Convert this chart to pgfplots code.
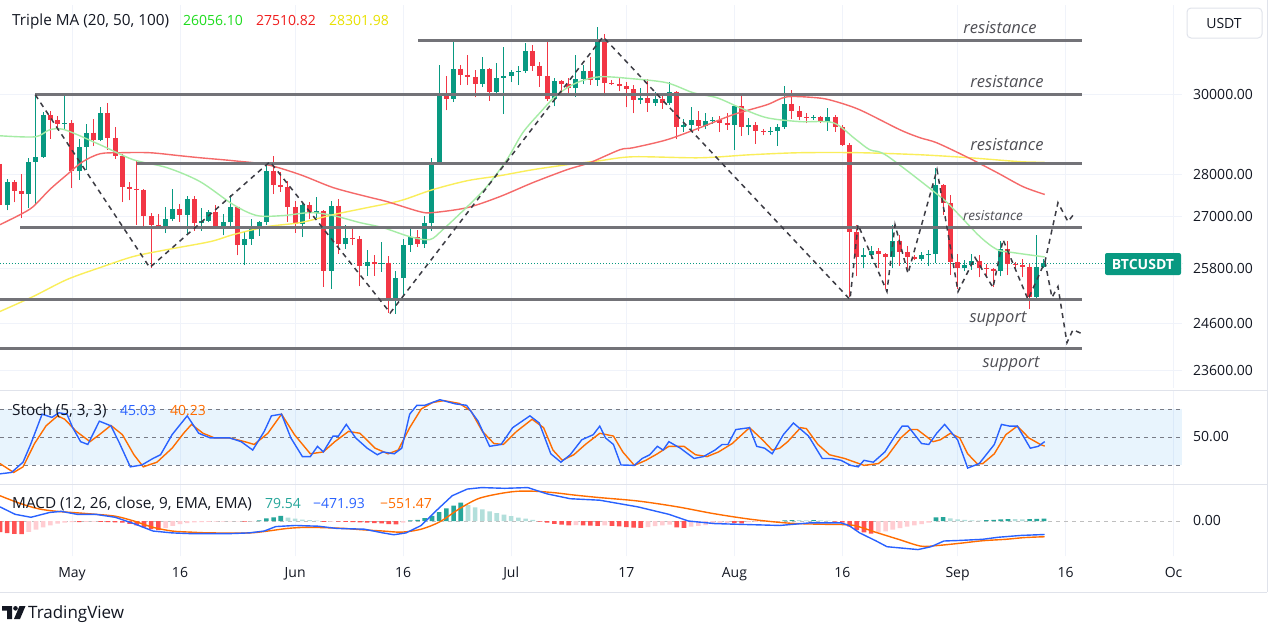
\documentclass[border=0pt]{standalone}
\usepackage{pgfplots}
\pgfplotsset{compat=1.18}
\usepackage{pgfplotstable}
\usepackage{fontspec}
\setmainfont{Open Sans}
\definecolor{upc}{RGB}{8,153,129}
\definecolor{dnc}{RGB}{242,54,69}
\definecolor{maA}{RGB}{165,236,165}
\definecolor{maB}{RGB}{245,105,105}
\definecolor{maC}{RGB}{250,238,90}
\definecolor{hl}{RGB}{115,115,120}
\definecolor{dsh}{RGB}{60,60,68}
\definecolor{gridc}{RGB}{240,243,250}
\definecolor{txt}{RGB}{19,23,34}
\definecolor{bord}{RGB}{224,227,235}
\definecolor{stb}{RGB}{41,98,255}
\definecolor{sto}{RGB}{255,109,0}
\definecolor{bandc}{RGB}{33,150,243}
\definecolor{refl}{RGB}{120,123,134}
\definecolor{hA}{RGB}{38,166,154}
\definecolor{hB}{RGB}{178,223,219}
\definecolor{hC}{RGB}{255,205,210}
\definecolor{hD}{RGB}{255,82,82}
\definecolor{annot}{RGB}{80,80,86}
\definecolor{legG}{RGB}{30,220,30}
\definecolor{legR}{RGB}{240,30,30}
\definecolor{legY}{RGB}{232,225,0}

% daily candles, d = days since 1 May
\pgfplotstableread{
d o h l c
-10 28250 28370 27130 27260
-9 27260 27880 27130 27820
-8 27820 27870 27320 27590
-7 27590 28000 26950 27510
-6 27510 28390 27180 28300
-5 28300 30000 27250 28420
-4 28420 29550 28400 29470
-3 29470 29570 28880 29340
-2 29340 29450 29090 29250
-1 29250 29960 29100 29280
0 29280 29340 27660 28070
1 28070 28880 27870 28680
2 28680 29260 28110 29030
3 29030 29380 28690 28850
4 28850 29680 28810 29530
5 29530 29800 28600 28900
6 28900 29180 28380 28450
7 28450 28490 27330 27690
8 27690 27820 27370 27650
9 27650 28330 26800 27620
10 27620 27650 26760 26990
11 26990 27060 25810 26800
12 26800 27040 26700 26770
13 26770 27200 26600 26920
14 26920 27650 26880 27160
15 27160 27280 26870 27030
16 27030 27480 26570 27400
17 27400 27470 26660 26830
18 26830 27180 26660 26890
19 26890 27150 26850 27100
20 27100 27270 26700 26750
21 26750 27050 26550 26850
22 26850 27500 26700 27220
23 27220 27220 26090 26330
24 26330 26650 25870 26470
25 26470 26930 26330 26720
26 26720 26890 26540 26870
27 26870 28200 26790 28080
28 28080 28450 27520 27740
29 27740 28050 27570 27700
30 27700 27840 26860 27210
31 27210 27350 26610 26820
32 26820 27300 26510 27250
33 27250 27340 26920 27070
34 27070 27450 26960 27120
35 27120 27130 25390 25750
36 25750 27360 25350 27240
37 27240 27390 26120 26340
38 26340 26800 26240 26500
39 26500 26770 26320 26470
40 26470 26530 25400 25850
41 25850 26210 25630 25940
42 25940 26100 25630 25900
43 25900 26400 25720 25930
44 25930 26080 24820 25120
45 25120 25750 24800 25580
46 25580 26460 25170 26330
47 26330 26770 26180 26510
48 26510 26680 26290 26340
49 26340 26990 26260 26840
50 26840 28390 26650 28310
51 28310 30800 28260 30000
52 30000 30500 29600 29890
53 29890 31430 29810 30690
54 30690 30800 30250 30530
55 30530 31050 30250 30470
56 30470 30650 29930 30270
57 30270 31000 30200 30690
58 30690 30700 29850 30080
59 30080 30830 30040 30450
60 30450 31280 29500 30490
61 30490 30650 30330 30590
62 30590 30770 30250 30630
63 30630 31380 30580 31160
64 31160 31320 30630 30770
65 30770 30880 30210 30500
66 30500 31500 29850 29900
67 29900 30450 29700 30350
68 30350 30380 30050 30290
69 30290 30440 30040 30170
70 30170 31050 29950 30410
71 30410 30800 30280 30620
72 30620 30990 30250 30390
73 30390 31820 30240 31470
74 31470 31640 29960 30320
75 30320 30400 30250 30280
76 30280 30440 30090 30230
77 30230 30340 29670 30140
78 30140 30250 29520 29860
79 29860 30190 29760 29910
80 29910 30420 29560 29800
81 29800 30060 29720 29900
82 29900 29990 29640 29790
83 29790 30340 29740 30080
84 30080 30100 28860 29180
85 29180 29380 29050 29230
86 29230 29680 29100 29350
87 29350 29570 29070 29210
88 29210 29530 29120 29320
89 29320 29420 29260 29360
90 29360 29450 29040 29280
91 29280 29520 29100 29230
92 29230 29740 28590 29700
93 29700 30050 28950 29180
94 29180 29410 28960 29220
95 29220 29310 28750 29080
96 29080 29110 28960 29040
97 29040 29180 28970 29080
98 29080 29250 28700 29180
99 29180 30230 29120 29770
100 29770 30130 29370 29570
101 29570 29700 29340 29430
102 29430 29530 29270 29390
103 29390 29480 29360 29430
104 29430 29460 29270 29300
105 29300 29650 29080 29430
106 29430 29470 29050 29170
107 29170 29230 28700 28710
108 28710 28770 25170 26620
109 26620 26800 25620 26050
110 26050 26270 25800 26100
111 26100 26300 26000 26190
112 26190 26270 25800 26120
113 26120 26140 25350 26050
114 26050 26800 25800 26430
115 26430 26560 25860 26160
116 26160 26310 25780 26060
117 26060 26100 25980 26010
118 26010 26170 25960 26090
119 26090 26220 25860 26120
120 26120 28140 25930 27730
121 27730 27760 27030 27300
122 27300 27500 25660 25940
123 25940 26130 25330 25800
124 25800 25980 25730 25870
125 25870 26130 25770 25970
126 25970 26100 25600 25810
127 25810 25900 25600 25780
128 25780 25800 25380 25750
129 25750 26430 25620 26240
130 26240 26420 25650 25900
131 25900 25940 25800 25870
132 25870 26020 25600 25830
133 25830 25890 24900 25160
134 25160 26560 25130 25840
135 25840 26000 25800 25920
}\ohlc

\pgfplotstableread{
d p
-10 28950
-5.1 28925
-3.1 29102
-1 29102
3.9 28725
8.5 28354
13.2 28158
17.8 27818
22.4 27268
25.7 27010
29.3 27010
33.1 27080
36.3 27010
40 26845
43.2 26728
46.9 26521
49.7 26452
51.5 26682
54.9 27220
57.6 27697
60.4 28354
62.6 29026
65 29538
67.4 30000
70.1 30316
73.3 30473
77.9 30420
82.6 30316
86.3 30052
89.6 29922
92.8 29664
96.5 29408
101.1 29307
105.7 29281
108.75 28875
110.8 28601
113.2 28450
120.6 27457
122.9 27080
126.1 26521
128.5 26223
130.7 26155
135.1 26056
}\maone

\pgfplotstableread{
d p
-10 26798
-7.2 27032
-5.4 27220
-3.1 27625
-0.7 27987
1.5 28305
3.9 28502
6.7 28527
10.8 28527
15 28452
17.8 28403
22.4 28329
27.1 28231
31.7 27987
36.3 27673
41 27458
43.75 27340
48.3 27103
50.1 27080
54.9 27197
59.4 27458
64 27793
68.75 28109
71.9 28280
76.1 28601
77.9 28650
82.6 28850
87.2 29153
91.8 29484
96.5 29741
99.3 29948
103.5 29922
105.7 29844
109.4 29612
115 29102
117.8 28900
120.1 28775
124.3 28420
128.5 28036
132.1 27697
135.1 27510
}\matwo

\pgfplotstableread{
d p
-10 24850
-5.4 25175
-0.7 25550
3.9 25817
8.5 26065
13.2 26223
19.2 26406
22.4 26567
27.1 26752
31.7 26845
36.3 27032
41 27197
45.6 27362
50.1 27625
54.9 27842
59.4 27963
64 28109
68.75 28231
73.3 28329
77.9 28427
87.2 28403
94.2 28477
101.1 28527
109.4 28527
117.8 28477
124.7 28403
131.7 28305
135.1 28290
}\mathree

\pgfplotstableread{
d v
-10 10.5
-8.4 12
-6.8 23
-5.75 42
-4.15 74.5
-2.8 71
-1.8 76
-0.7 74.5
0.1 60
1.2 45
2.2 42
3.8 67
5.4 62
6.5 45
8.1 18
9.7 20
11.25 27
12.3 31
13.9 52.5
16 72.7
17.6 54
19.2 49
21.9 49
23.5 45
25.1 36
26.7 56
27.7 72.7
29.1 74.5
30.4 49
32 29
33.1 29
34.1 40
34.9 34
36.25 51
37 51
38.1 63.5
39.4 49
41 38
42.4 31
43.2 34
44.75 32
45.8 38
46.9 74.5
47.9 84
49 84
51.1 90
53.25 85.5
54.8 84
56.4 67
58 40
59.6 42
61.2 60
63.6 72.7
64.9 65
66.5 32
67.9 23
69.2 31
70.8 47
72.4 52.5
73.3 61.7
74.1 49
75.2 42
76.25 20
78.1 19.6
79.2 27
80.25 31
81.3 40
82.1 36
82.9 45
84.5 38
86.4 27
87.7 29
89.3 36
90.3 42
91.1 42
92.2 58
94.1 60
95.1 40
96.2 38
97.25 32
98.8 52.5
100.2 65
102.3 51
104.2 27
105.5 27
106.8 25
108.15 19.6
109.2 18
110 25
111.3 23
112.9 34
114.3 51
115.3 61.7
116.1 61.7
118 43
119 42
120.1 54
121.2 63.5
123 47
124.4 16.7
126 21.5
128.1 42
129.1 63.5
130.2 61.7
131.3 61.7
133.1 38
134.2 40
135.1 45.03
}\stk

\pgfplotstableread{
d v
-10 21.5
-8.1 12
-6.8 18
-5.2 43
-3.6 62
-2 72.7
-1 69
0.6 56
2.5 45
3.8 52.5
5.4 62.4
7 52.5
8.6 31
9.9 18
11.8 23
13.9 38
15.5 54
16.6 63.5
18.2 54
19.8 49
21.9 49
24 45
25.3 42
27.2 54
29.1 74.5
30.9 52.5
33.1 32
34.9 34
36.5 45
38.4 56
40 54
42.1 38
43.9 32
45.3 36
46.9 60
48.5 80
50.1 87
51.65 89
53.8 86
55.4 78
57 56
58.6 43
59.9 42
61.75 56
63.9 69
65.5 60
66.8 36
68.1 25
69.7 31
71.3 42
73.3 54
75.2 51
76.5 34
78.1 19.6
79.7 25
81.3 32
82.9 40
85 40
86.6 31
88.2 29
89.8 34
91.7 43
94.1 60
95.9 47
97.25 36
98.3 38
99.4 45
101.2 60
102 59
103.6 42
105.2 31
107.3 27
110 19.6
112 21.5
113.2 29
115.1 49
116.4 58
117.4 58
119.6 45
120.6 47
122 54
123.3 49
124.4 32
125.7 21.5
126.5 21.5
128.1 32
129.7 52.5
131.3 61.7
132.9 49
134.5 42
135.1 40.23
}\std

\pgfplotstableread{
d v
-10 494
-7.9 234
-5.7 130
-3.1 299
-1.5 338
0.7 234
3.3 234
6 130
8.6 -91
11.25 -351
13.9 -416
16.5 -442
21.9 -442
24.6 -416
26.7 -351
28.3 -195
31 -156
34.2 -182
36.8 -260
40.6 -286
43.2 -416
44.7 -481
46.4 -416
48.5 -156
50.6 364
52.8 884
54.9 1118
56.9 1170
60.1 1144
63.3 1170
66 949
69.2 780
73.3 728
78.6 494
82.9 234
85.6 0
89.3 -91
94.6 -130
98.3 -156
102.5 -65
106.8 -65
107.9 -156
109.4 -416
111.7 -700
113.2 -900
117.5 -1000
119.3 -900
121.1 -700
123.3 -680
126.5 -640
128.6 -570
131.8 -505
135.1 -472
}\macdline

\pgfplotstableread{
d v
-10 884
-7.3 624
-4.7 429
-2.1 338
0.7 286
3.3 234
6 169
8.6 0
11.25 -221
13.9 -351
16.5 -390
19.2 -416
24.6 -416
27.2 -351
29.9 -260
32.5 -221
35.1 -234
37.8 -260
40.6 -312
43.2 -351
45.8 -390
48.5 -286
51.1 -26
53.8 429
56.4 780
59.2 949
61.8 1040
64.4 1040
67.1 988
69.7 910
73.3 819
78.6 700
84 500
89.3 250
94.6 50
99.9 -80
105.3 -120
108.5 -150
111.7 -400
114.9 -650
117.9 -880
120.1 -860
123.3 -780
126.5 -690
129.7 -640
132.3 -580
135.1 -551
}\macdsig

\pgfplotstableread{
d v
26 20
27 90
28 130
29 180
47 20
48 40
49 100
50 180
51 310
52 440
53 540
54 640
99 20
100 35
103 30
120 130
121 140
127 30
128 40
129 55
130 70
133 70
134 75
135 79.54
}\histA

\pgfplotstableread{
d v
30 120
31 80
32 50
33 30
34 10
55 560
56 480
57 410
58 340
59 280
60 220
61 170
62 120
63 80
64 40
101 30
102 25
104 25
105 15
122 90
123 60
124 40
125 25
126 15
131 65
132 60
}\histB

\pgfplotstableread{
d v
-6 -380
-5 -300
-4 -220
-3 -150
-2 -90
-1 -55
0 -35
2 -30
3 -20
13 -250
14 -170
15 -110
16 -70
17 -50
18 -40
19 -30
20 -25
21 -20
22 -15
23 -10
25 -15
36 -20
46 -60
70 -140
74 -150
80 -210
81 -180
82 -150
83 -130
86 -200
87 -170
88 -140
89 -110
90 -90
91 -70
94 -40
95 -30
96 -20
97 -15
98 -10
112 -410
113 -360
114 -300
115 -250
116 -200
117 -150
118 -110
119 -60
}\histC

\pgfplotstableread{
d v
-10 -390
-9 -420
-8 -450
-7 -455
1 -40
4 -28
5 -35
6 -45
7 -60
8 -100
9 -150
10 -220
11 -280
12 -320
24 -25
35 -30
37 -25
38 -30
39 -35
40 -50
41 -60
42 -70
43 -85
44 -110
45 -120
65 -20
66 -60
67 -100
68 -130
69 -150
71 -150
72 -160
73 -170
75 -170
76 -190
77 -210
78 -230
79 -240
84 -220
85 -240
92 -75
93 -80
106 -20
107 -60
108 -200
109 -320
110 -400
111 -440
}\histD

\newcommand{\fs}{\fontsize{14}{16}\selectfont}
\newcommand{\fl}{\fontsize{15.3}{18}\selectfont}
\newcommand{\tvname}[3]{\node[anchor=base west, inner sep=0pt, text=txt, font=\fl] at (#1pt,-#2pt) {#3};}
\newcommand{\tvtext}[4]{\node[anchor=base west, inner sep=0pt, text=#3, font=\fs] at (#1pt,-#2pt) {#4};}

\pgfplotsset{
  tvbase/.style={
    anchor=north west, scale only axis, width=1182pt,
    xmin=-10, xmax=154.17,
    axis line style={draw=none},
    tick style={draw=none}, major tick length=0pt,
    xtick={0,15,31,46,61,77,92,107,123,138,153},
    xticklabels={},
    xmajorgrids, major grid style={draw=gridc, line width=0.8pt},
    yticklabel pos=right,
    yticklabel style={font=\fs, text=txt, anchor=west, inner sep=0pt, xshift=11pt},
  }
}

\begin{document}
\begin{tikzpicture}
\fill[white] (0pt,0pt) rectangle (1273pt,-624pt);
\useasboundingbox (0pt,0pt) rectangle (1273pt,-624pt);

% ---------------- main price panel ----------------
\begin{axis}[tvbase, at={(0pt,-5pt)}, height=383pt,
  ymode=log, ymin=23254, ymax=32441,
  ytick={23600,24600,25800,27000,28000,30000},
  yticklabels={23600.00,24600.00,25800.00,27000.00,28000.00,30000.00},
  ymajorgrids,
]
\addplot[upc, line width=0.8pt, dash pattern=on 1pt off 2pt, forget plot] coordinates {(-10,25920) (154.17,25920)};
\pgfplotsforeachungrouped \candidx in {0,...,145} {%
  \pgfplotstablegetelem{\candidx}{d}\of\ohlc\let\cd\pgfplotsretval
  \pgfplotstablegetelem{\candidx}{o}\of\ohlc\let\co\pgfplotsretval
  \pgfplotstablegetelem{\candidx}{h}\of\ohlc\let\ch\pgfplotsretval
  \pgfplotstablegetelem{\candidx}{l}\of\ohlc\let\cl\pgfplotsretval
  \pgfplotstablegetelem{\candidx}{c}\of\ohlc\let\cc\pgfplotsretval
  \ifnum\cc<\co\relax \def\ccol{dnc}\else\def\ccol{upc}\fi
  \edef\doplot{%
    \noexpand\addplot[forget plot, draw=\ccol, line width=1pt] coordinates {(\cd,\cl) (\cd,\ch)};%
    \noexpand\addplot[forget plot, draw=\ccol, line width=5pt] coordinates {(\cd,\co) (\cd,\cc)};%
  }\doplot
}
\addplot[maC, line width=1.4pt, smooth, forget plot] table[x=d,y=p] {\mathree};
\addplot[maB, line width=1.4pt, smooth, forget plot] table[x=d,y=p] {\matwo};
\addplot[maA, line width=1.4pt, smooth, forget plot] table[x=d,y=p] {\maone};
% horizontal support / resistance lines
\addplot[hl, line width=2.7pt, forget plot] coordinates {(48.1,31442) (140.3,31442)};
\addplot[hl, line width=2.7pt, forget plot] coordinates {(-5.1,30000) (140.3,30000)};
\addplot[hl, line width=2.7pt, forget plot] coordinates {(9.0,28255) (140.3,28255)};
\addplot[hl, line width=2.7pt, forget plot] coordinates {(-7.2,26740) (140.3,26740)};
\addplot[hl, line width=2.7pt, forget plot] coordinates {(-10,25110) (140.3,25110)};
\addplot[hl, line width=2.7pt, forget plot] coordinates {(-10,24060) (140.3,24060)};
% dashed zig-zag paths
\addplot[dsh, line width=1.5pt, dash pattern=on 5pt off 4.5pt, forget plot] coordinates {
(-5.1,30000) (10.8,25817) (27.5,28305) (44.2,24820) (73.75,31551) (108.06,25110)
(109.17,26798) (113.19,25285) (114.31,26798) (116.11,25683) (120.14,28109) (123.06,25285)
(125.42,26042) (127.92,25373) (129.31,26452) (132.78,25110) (135.14,25952)
(136.94,27315) (138.33,26868) (139.31,27079)};
\addplot[dsh, line width=1.5pt, dash pattern=on 5pt off 4.5pt, forget plot] coordinates {
(135.14,25952) (136.11,25154) (136.94,25395) (138.19,24186) (139.03,24459) (140.28,24374)};
\end{axis}

% ---------------- stochastic panel ----------------
\begin{axis}[tvbase, at={(0pt,-390pt)}, height=94pt,
  ymin=-0.4, ymax=100.4, ytick={50}, yticklabels={50.00},
]
\fill[bandc, fill opacity=0.1] (axis cs:-10,20) rectangle (axis cs:154.17,80);
\addplot[refl, line width=0.9pt, dash pattern=on 4pt off 4pt, forget plot] coordinates {(-10,80) (154.17,80)};
\addplot[refl, line width=0.9pt, dash pattern=on 4pt off 4pt, forget plot] coordinates {(-10,50) (154.17,50)};
\addplot[refl, line width=0.9pt, dash pattern=on 4pt off 4pt, forget plot] coordinates {(-10,20) (154.17,20)};
\addplot[sto, line width=1.4pt, forget plot] table[x=d,y=v] {\std};
\addplot[stb, line width=1.4pt, forget plot] table[x=d,y=v] {\stk};
\end{axis}

% ---------------- MACD panel ----------------
\begin{axis}[tvbase, at={(0pt,-484pt)}, height=72pt,
  ymin=-1225, ymax=1295, ytick={0}, yticklabels={0.00},
  xticklabels={May,16,Jun,16,Jul,17,Aug,16,Sep,16,Oc},
  xticklabel style={font=\fs, text=txt, inner sep=0pt, yshift=-11pt},
]
\addplot[black!25, line width=0.9pt, dash pattern=on 4pt off 4pt, forget plot] coordinates {(-10,0) (154.17,0)};
\addplot[ybar, bar width=4.6pt, bar shift=0pt, fill=hA, draw=none, forget plot] table[x=d,y=v] {\histA};
\addplot[ybar, bar width=4.6pt, bar shift=0pt, fill=hB, draw=none, forget plot] table[x=d,y=v] {\histB};
\addplot[ybar, bar width=4.6pt, bar shift=0pt, fill=hC, draw=none, forget plot] table[x=d,y=v] {\histC};
\addplot[ybar, bar width=4.6pt, bar shift=0pt, fill=hD, draw=none, forget plot] table[x=d,y=v] {\histD};
\addplot[sto, line width=1.4pt, smooth, forget plot] table[x=d,y=v] {\macdsig};
\addplot[stb, line width=1.4pt, forget plot] table[x=d,y=v] {\macdline};
\end{axis}

% ---------------- frame ----------------
\draw[bord, line width=1pt] (0pt,-390pt) -- (1267pt,-390pt);
\draw[bord, line width=1pt] (0pt,-484pt) -- (1267pt,-484pt);
\draw[bord, line width=1pt] (1267pt,0pt) -- (1267pt,-592pt);
\draw[bord, line width=1pt] (0pt,-592pt) -- (1267pt,-592pt);

% ---------------- texts ----------------
\tvname{12}{25.5}{Triple MA (20, 50, 100)}
\tvtext{183}{25.5}{legG}{26056.10}
\tvtext{256}{25.5}{legR}{27510.82}
\tvtext{329}{25.5}{legY}{28301.98}

\tvname{12}{415.5}{Stoch (5, 3, 3)}
\tvtext{120}{415.5}{stb}{45.03}
\tvtext{170}{415.5}{sto}{40.23}

\tvname{12}{508.5}{MACD (12, 26, close, 9, EMA, EMA)}
\tvtext{265}{508.5}{hA}{79.54}
\tvtext{313}{508.5}{stb}{−471.93}
\tvtext{380}{508.5}{sto}{−551.47}

\begin{scope}[every node/.style={anchor=base, inner sep=0pt, text=annot}]
\node[font=\fontsize{16.5}{19}\selectfont\itshape] at (1000pt,-33.5pt) {resistance};
\node[font=\fontsize{16.5}{19}\selectfont\itshape] at (1007pt,-87.5pt) {resistance};
\node[font=\fontsize{16.5}{19}\selectfont\itshape] at (1007pt,-150.5pt) {resistance};
\node[font=\fontsize{13.5}{16}\selectfont\itshape] at (993pt,-220.5pt) {resistance};
\node[font=\fontsize{16.5}{19}\selectfont\itshape] at (998pt,-322.5pt) {support};
\node[font=\fontsize{16.5}{19}\selectfont\itshape] at (1011pt,-367.5pt) {support};
\end{scope}

% price tag and currency button
\fill[upc, rounded corners=2pt] (1105pt,-253pt) rectangle (1181pt,-275pt);
\node[text=white, font=\fs\bfseries, inner sep=0pt] at (1143pt,-264pt) {BTCUSDT};
\draw[bord, line width=1pt, rounded corners=4pt] (1187pt,-8pt) rectangle (1262pt,-38pt);
\node[text=txt, font=\fs, inner sep=0pt] at (1224pt,-23pt) {USDT};

% TradingView logo
\fill[txt] (2pt,-606pt) -- (12pt,-606pt) -- (12pt,-619pt) -- (7pt,-619pt) -- (7pt,-610.5pt) -- (2pt,-610.5pt) -- cycle;
\fill[txt] (15.5pt,-608.3pt) circle (2.3pt);
\fill[txt] (19.5pt,-606pt) -- (25.5pt,-606pt) -- (20pt,-619pt) -- (14pt,-619pt) -- cycle;
\node[anchor=base west, inner sep=0pt, text=txt, font=\fontsize{17}{20}\selectfont] at (28pt,-618.5pt) {TradingView};
\end{tikzpicture}
\end{document}
